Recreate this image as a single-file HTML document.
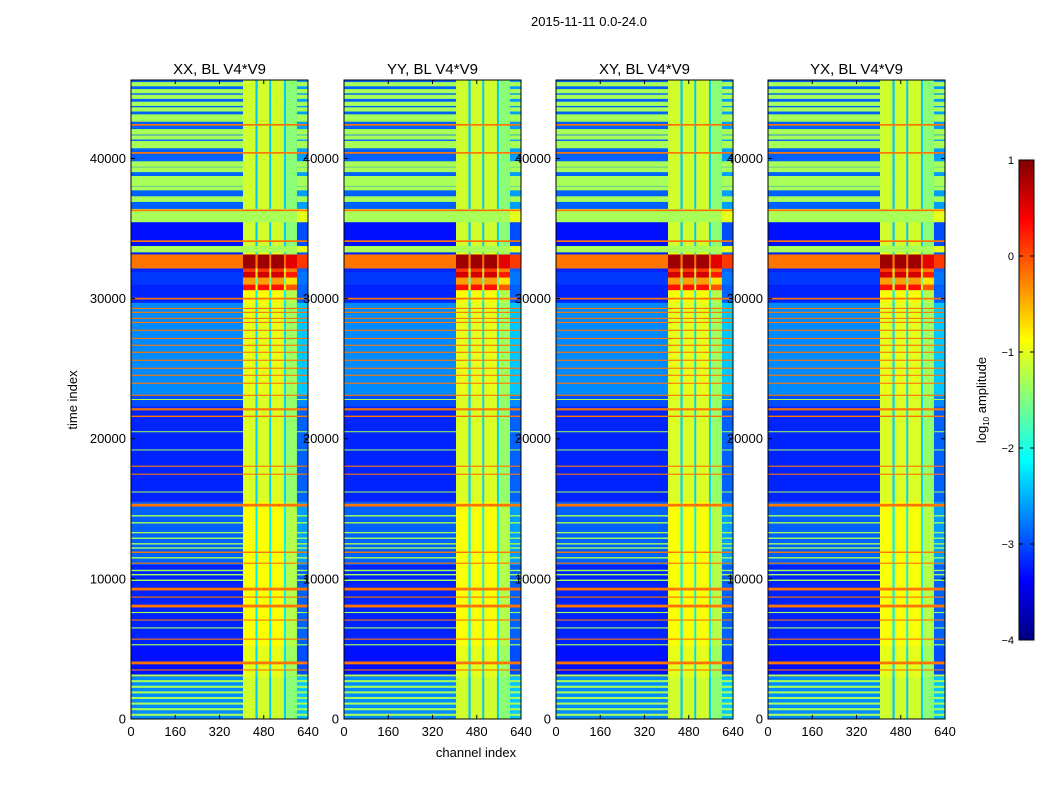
<!DOCTYPE html>
<html><head><meta charset="utf-8"><style>
body{margin:0;background:#fff;font-family:"Liberation Sans",sans-serif}
svg text{font-family:"Liberation Sans","DejaVu Sans",sans-serif;fill:#000}
</style></head><body>
<svg id="fig" width="1050" height="800" xmlns="http://www.w3.org/2000/svg">
<rect width="1050" height="800" fill="#fff"/>
<text x="589" y="26" font-size="13" text-anchor="middle">2015-11-11 0.0-24.0</text>
<text x="476" y="757" font-size="13" text-anchor="middle">channel index</text>
<text transform="translate(77,400) rotate(-90)" font-size="13" text-anchor="middle">time index</text>
<g id="panels"></g>
<g id="cbar"></g>
<text transform="translate(986,400) rotate(-90)" font-size="13" text-anchor="middle">log<tspan font-size="8" dy="3">10</tspan><tspan dy="-3"> amplitude</tspan></text>
</svg>
<script>
// ---- data ----
const panelNames = ["XX, BL V4*V9","YY, BL V4*V9","XY, BL V4*V9","YX, BL V4*V9"];
const xTicks = [0,160,320,480,640];
const yTicks = [0,10000,20000,30000,40000];
const cbTicks = [1,0,-1,-2,-3,-4];
const tMax = 45600;
// base time segments: start, end
const segStart = [44000,36400,35450,33750,33300,33150,32150,31900,31500,31000,30600,29700,23100,22300,15500,11000,5200,3000,0];
const segEnd   = [45600,44000,36400,35450,33750,33300,33150,32150,31900,31500,31000,30600,29700,23100,22300,15500,11000,5200,3000];
const segOff   = [-2.9,-2.9,-1.3,-3.3,-1.3,-3.2,-0.2,-3.2,-3.1,-3.1,-3.2,-3.2,-2.7,-3.0,-3.2,-2.9,-3.2,-3.3,-2.7];
const segBand  = [-1.1,-1.1,-1.3,-1.1,-1.3,-1.0,0.85,0.1,0.6,-0.4,0.3,-0.9,-1.0,-1.05,-1.05,-0.9,-0.9,-1.0,-1.1];
// horizontal lines: time, thickness, log amplitude
const lineT   = [45300,44800,44400,43900,43500,43000,42750,41900,41500,41100,40850,39600,39200,38500,38150,37850,37100,
                 42400,40400,36300,34100,30000,
                 29300,29020,28590,28300,27740,27160,26670,26170,25600,25030,24530,23960,23100,22100,21600,18040,17470,15260,11900,11120,9270,8700,8060,7060,5700,4000,3500,
                 22800,20500,19200,16200,14500,14000,13300,12900,12500,12200,11500,10600,10300,9900,7600,6500,5300,3100,2700,2300,1900,1500,1100,700,300];
const lineW   = [300,300,300,300,300,300,250,400,300,300,250,400,350,500,300,250,400,
                 120,120,120,120,120,
                 80,80,80,80,80,80,80,80,80,80,80,80,80,150,100,80,80,200,100,80,200,80,200,80,80,200,80,
                 60,60,60,60,100,100,100,100,100,100,100,100,100,100,80,80,80,150,150,150,150,150,150,150,150];
const lineV   = [-1.3,-1.3,-1.3,-1.3,-1.3,-1.3,-1.3,-1.3,-1.3,-1.3,-1.3,-1.3,-1.3,-1.3,-1.3,-1.3,-1.3,
                 -0.2,-0.2,-0.2,-0.2,-0.2,
                 -0.2,-0.2,-0.2,-0.2,-0.2,-0.2,-0.2,-0.2,-0.2,-0.2,-0.2,-0.2,-0.2,-0.2,-0.2,-0.2,-0.2,-0.2,-0.2,-0.2,-0.2,-0.2,-0.2,-0.2,-0.2,-0.2,-0.2,
                 -1.3,-1.3,-1.3,-1.3,-1.3,-1.3,-1.3,-1.3,-1.3,-1.3,-1.3,-1.3,-1.3,-1.3,-1.3,-1.3,-1.3,-1.3,-1.3,-1.3,-1.3,-1.3,-1.3,-1.3,-1.3];
// channel columns
const chanStart = [0,405,450,458,500,507,553,560,600];
const chanEnd   = [405,450,458,500,507,553,560,600,640];
const chanInBand= [0,1,1,1,1,1,1,1,0];
const chanOffset= [0,0,-1.3,0,-1.3,0,-1.3,-0.35,0.3];

// ---- layout ----
const NS="http://www.w3.org/2000/svg";
const panelX=[131,344,556,768], PW=177, PT=80, PB=719;
const ys = t => PB - t/ tMax*(PB-PT);
const xs = (p,c) => panelX[p] + c/640*PW;
function jet(v){
  let x=(v+4)/5; x=Math.max(0,Math.min(1,x));
  const f=a=>Math.round(255*Math.max(0,Math.min(1,1.5-Math.abs(4*x-a))));
  return `rgb(${f(3)},${f(2)},${f(1)})`;
}
function mk(tag,attrs,parent){const e=document.createElementNS(NS,tag);for(const k in attrs)e.setAttribute(k,attrs[k]);parent.appendChild(e);return e;}
const gp=document.getElementById('panels');
for(let p=0;p<4;p++){
  const g=mk('g',{},gp);
  
  
  for(let s=0;s<segStart.length;s++){
    for(let c=0;c<chanStart.length;c++){
      let v = chanInBand[c] ? Math.max(segOff[s], segBand[s]+chanOffset[c]) : segOff[s]+chanOffset[c];
      const r=mk('rect',{x:xs(p,chanStart[c]),y:ys(segEnd[s]),width:xs(p,chanEnd[c])-xs(p,chanStart[c])+0.3,height:ys(segStart[s])-ys(segEnd[s])+0.3,fill:jet(v)},g);
      
      
    }
  }
  for(let i=0;i<lineT.length;i++){
    for(let c=0;c<chanStart.length;c++){
      if(chanInBand[c] && lineV[i]<-1) continue;
      let v = chanInBand[c] ? Math.max(lineV[i], -1.0+chanOffset[c]*0.3) : lineV[i];
      const h=Math.max(1, ys(lineT[i]-lineW[i]/2)-ys(lineT[i]+lineW[i]/2));
      const r=mk('rect',{x:xs(p,chanStart[c]),y:ys(lineT[i])-h/2,width:xs(p,chanEnd[c])-xs(p,chanStart[c])+0.3,height:h,fill:jet(v)},g);
      
      
    }
  }
  const fr=mk('rect',{x:panelX[p],y:PT,width:PW,height:PB-PT,fill:'none',stroke:'#000','stroke-width':1},g);
  
  
  const tt=mk('text',{x:panelX[p]+PW/2,y:74,'font-size':15,'text-anchor':'middle'},g);
  tt.textContent=panelNames[p];
  
  
  xTicks.forEach(v=>{
    const x=xs(p,v);
    mk('line',{x1:x,x2:x,y1:PB,y2:PB-4,stroke:'#000'},g);
    mk('line',{x1:x,x2:x,y1:PT,y2:PT+4,stroke:'#000'},g);
    const t=mk('text',{x:x,y:736,'font-size':13,'text-anchor':'middle'},g);
    t.textContent=v;
    
    
  });
  yTicks.forEach(v=>{
    const y=ys(v);
    mk('line',{x1:panelX[p],x2:panelX[p]+4,y1:y,y2:y,stroke:'#000'},g);
    mk('line',{x1:panelX[p]+PW,x2:panelX[p]+PW-4,y1:y,y2:y,stroke:'#000'},g);
    const t=mk('text',{x:panelX[p]-5,y:y+4.5,'font-size':13,'text-anchor':'end'},g);
    t.textContent=v;
    
    
  });
}
// colorbar
const gc=document.getElementById('cbar');
const cy = v => 160 + (1-v)/5*480;
for(let i=0;i<240;i++){
  const v=1-(i+0.5)/240*5;
  mk('rect',{x:1019,y:160+i*2,width:15,height:2.3,fill:jet(v)},gc);
}
const cf=mk('rect',{x:1019,y:160,width:15,height:480,fill:'none',stroke:'#000'},gc);


cbTicks.forEach(v=>{
  const y=cy(v);
  mk('line',{x1:1019,x2:1023,y1:y,y2:y,stroke:'#000'},gc);
  mk('line',{x1:1034,x2:1030,y1:y,y2:y,stroke:'#000'},gc);
  const t=mk('text',{x:1014,y:y+4,'font-size':11,'text-anchor':'end'},gc);
  t.textContent=v<0?'\u2212'+(-v):String(v);
  
  
});
</script>
</body></html>
